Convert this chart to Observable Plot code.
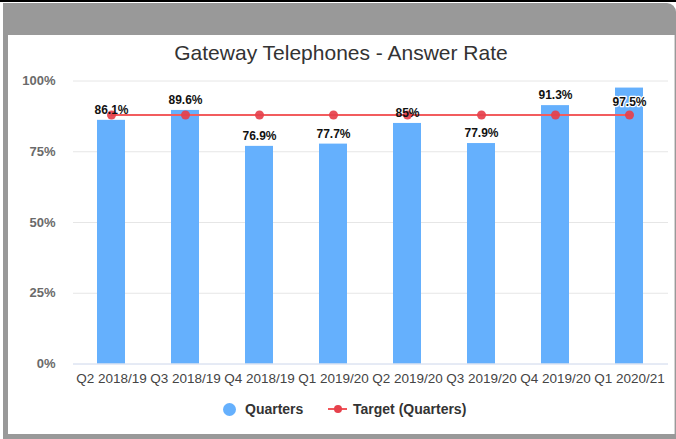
<!DOCTYPE html>
<html><head><meta charset="utf-8">
<script src="https://cdn.jsdelivr.net/npm/d3@7"></script>
<script src="https://cdn.jsdelivr.net/npm/@observablehq/plot@0.6"></script>
<style>
body{margin:0;width:676px;height:439px;overflow:hidden;background:#fff;font-family:"Liberation Sans",Arial,sans-serif;position:relative}
#topbar{position:absolute;left:0;top:0;width:676px;height:2px;background:#000}
#frame{position:absolute;left:3px;top:3px;width:673px;height:436px;background:#999;border-top-right-radius:9px}
#panel{position:absolute;left:8px;top:35px;width:666px;height:399px;background:#fff;border-right:1px solid #d4d4d4}
#chart{position:absolute;left:0;top:0}
#title{position:absolute;left:8px;width:666px;top:41px;line-height:24px;text-align:center;font-size:21px;color:#333}
.lg{position:absolute;top:401px;line-height:16px;font-size:14px;font-weight:bold;color:#333;white-space:nowrap}
#lgc{position:absolute;left:222.5px;top:402.5px;width:13px;height:13px;border-radius:50%;background:#65b0fd}
#lgl{position:absolute;left:328px;top:408px;width:19px;height:2px;background:#f2565a}
#lgd{position:absolute;left:334px;top:405px;width:8px;height:8px;border-radius:50%;background:#e6414c}
</style></head>
<body>
<div id="topbar"></div>
<div id="frame"></div>
<div id="panel"></div>
<div id="chart"></div>
<div id="title">Gateway Telephones - Answer Rate</div>
<div id="lgc"></div><div class="lg" style="left:245px">Quarters</div>
<div id="lgl"></div><div id="lgd"></div><div class="lg" style="left:353px">Target (Quarters)</div>
<script>
const quarters = ["Q2 2018/19","Q3 2018/19","Q4 2018/19","Q1 2019/20","Q2 2019/20","Q3 2019/20","Q4 2019/20","Q1 2020/21"];
const answerRate = [86.1, 89.6, 76.9, 77.7, 85, 77.9, 91.3, 97.5];
const targetRate = [88, 88, 88, 88, 88, 88, 88, 88];
const yTicks = [0, 25, 50, 75, 100];

const data = quarters.map((q, i) => ({quarter: q, value: answerRate[i], target: targetRate[i]}));
const fmt = d => d.value + "%";

const plot = Plot.plot({
  width: 676, height: 390,
  marginLeft: 73, marginRight: 8, marginTop: 80.5, marginBottom: 26.5,
  style: {background: "transparent", fontFamily: "'Liberation Sans', Arial, sans-serif"},
  x: {domain: quarters, paddingInner: 0.62, paddingOuter: 0.31, label: null},
  y: {domain: [0, 100], label: null},
  marks: [
    Plot.gridY(yTicks.filter(t => t > 0), {stroke: "#e6e6e6", strokeOpacity: 1}),
    Plot.axisY(yTicks, {tickSize: 0, tickPadding: 18, tickFormat: d => d + "%", fontSize: 13, fontWeight: "bold", fill: "#6a6a6a"}),
    Plot.axisX({tickSize: 0, tickPadding: 9, fontSize: 13.5, fill: "#444"}),
    Plot.barY(data, {x: "quarter", y: "value", fill: "#65b0fd"}),
    Plot.ruleY([0], {stroke: "#ccd6eb"}),
    Plot.line(data, {x: "quarter", y: "target", stroke: "#f25c5e", strokeWidth: 2}),
    Plot.dot(data, {x: "quarter", y: "target", r: 4.5, fill: "#e6414c", fillOpacity: 0.92}),
    Plot.text(data.filter(d => d.value <= 95), {x: "quarter", y: "value", text: fmt, dy: -10, fontSize: 12, fontWeight: "bold", fill: "#111"}),
    Plot.text(data.filter(d => d.value > 95), {x: "quarter", y: "value", text: fmt, dy: 14, fontSize: 12, fontWeight: "bold", fill: "#111", stroke: "white", strokeWidth: 2.5})
  ]
});
document.getElementById("chart").appendChild(plot);
</script>
</body></html>
